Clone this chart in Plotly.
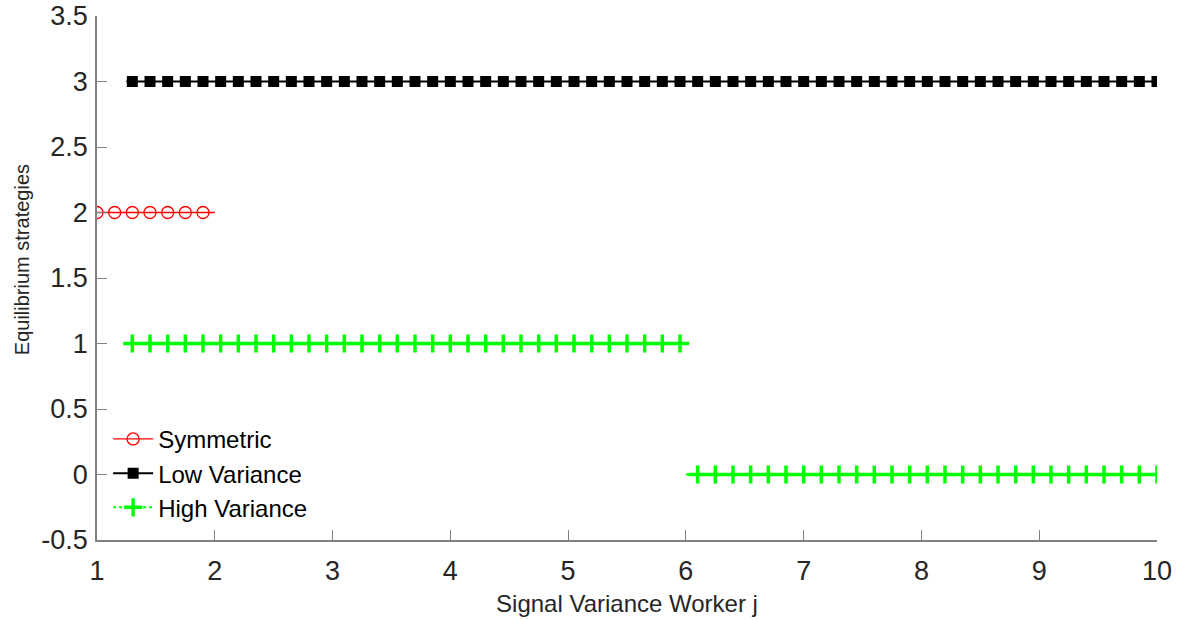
import plotly.graph_objects as go

# ---- data ----
sym_line_x = [1.0, 2.0]
sym_marker_x = [1.0, 1.15, 1.3, 1.45, 1.6, 1.75, 1.9]
sym_value = 2

low_line_x = [1.25, 10.0]
low_marker_x = [1.3, 1.45, 1.6, 1.75, 1.9, 2.05, 2.2, 2.35, 2.5, 2.65, 2.8, 2.95,
                3.1, 3.25, 3.4, 3.55, 3.7, 3.85, 4.0, 4.15, 4.3, 4.45, 4.6, 4.75,
                4.9, 5.05, 5.2, 5.35, 5.5, 5.65, 5.8, 5.95, 6.1, 6.25, 6.4, 6.55,
                6.7, 6.85, 7.0, 7.15, 7.3, 7.45, 7.6, 7.75, 7.9, 8.05, 8.2, 8.35,
                8.5, 8.65, 8.8, 8.95, 9.1, 9.25, 9.4, 9.55, 9.7, 9.85, 10.0]
low_value = 3

high1_line_x = [1.25, 6.0]
high1_marker_x = [1.3, 1.45, 1.6, 1.75, 1.9, 2.05, 2.2, 2.35, 2.5, 2.65, 2.8, 2.95,
                  3.1, 3.25, 3.4, 3.55, 3.7, 3.85, 4.0, 4.15, 4.3, 4.45, 4.6, 4.75,
                  4.9, 5.05, 5.2, 5.35, 5.5, 5.65, 5.8, 5.95]
high1_value = 1
high2_line_x = [6.0, 10.0]
high2_marker_x = [6.1, 6.25, 6.4, 6.55, 6.7, 6.85, 7.0, 7.15, 7.3, 7.45, 7.6, 7.75,
                  7.9, 8.05, 8.2, 8.35, 8.5, 8.65, 8.8, 8.95, 9.1, 9.25, 9.4, 9.55,
                  9.7, 9.85, 10.0]
high2_value = 0

x_ticks = [1, 2, 3, 4, 5, 6, 7, 8, 9, 10]
y_ticks = [-0.5, 0, 0.5, 1, 1.5, 2, 2.5, 3, 3.5]
y_tick_labels = ["-0.5", "0", "0.5", "1", "1.5", "2", "2.5", "3", "3.5"]

x_title = "Signal Variance Worker j"
y_title = "Equilibrium strategies"

RED = "#FF0000"
BLACK = "#000000"
GREEN = "#00FF00"
FONT = "Liberation Sans, Arial, Helvetica, sans-serif"

sym_marker = dict(symbol="circle-open", size=12, color=RED, line=dict(width=1.3, color=RED))
low_marker = dict(symbol="square", size=11, color=BLACK)
high_marker = dict(symbol="cross-thin", size=13, color=GREEN, line=dict(width=3.5, color=GREEN))

fig = go.Figure()

# Symmetric
fig.add_trace(go.Scatter(x=sym_line_x, y=[sym_value] * len(sym_line_x), mode="lines",
                         line=dict(color=RED, width=1.3), showlegend=False, hoverinfo="skip"))
fig.add_trace(go.Scatter(x=sym_marker_x, y=[sym_value] * len(sym_marker_x), mode="markers",
                         marker=sym_marker, showlegend=False))
# Low Variance
fig.add_trace(go.Scatter(x=low_line_x, y=[low_value] * len(low_line_x), mode="lines",
                         line=dict(color=BLACK, width=2), showlegend=False, hoverinfo="skip"))
fig.add_trace(go.Scatter(x=low_marker_x, y=[low_value] * len(low_marker_x), mode="markers",
                         marker=low_marker, showlegend=False))
# High Variance
fig.add_trace(go.Scatter(x=high1_line_x + [None] + high2_line_x,
                         y=[high1_value] * len(high1_line_x) + [None] + [high2_value] * len(high2_line_x),
                         mode="lines", line=dict(color=GREEN, width=2, dash="dot"),
                         showlegend=False, hoverinfo="skip", connectgaps=False))
fig.add_trace(go.Scatter(x=high1_marker_x + high2_marker_x,
                         y=[high1_value] * len(high1_marker_x) + [high2_value] * len(high2_marker_x),
                         mode="markers", marker=high_marker, showlegend=False))

# legend entries
fig.add_trace(go.Scatter(x=[None], y=[None], mode="lines+markers", name="Symmetric",
                         line=dict(color=RED, width=1.3), marker=sym_marker))
fig.add_trace(go.Scatter(x=[None], y=[None], mode="lines+markers", name="Low Variance",
                         line=dict(color=BLACK, width=2), marker=low_marker))
fig.add_trace(go.Scatter(x=[None], y=[None], mode="lines+markers", name="High Variance",
                         line=dict(color=GREEN, width=2, dash="dot"), marker=high_marker))

axis_common = dict(showgrid=False, zeroline=False, showline=True, linecolor="#808080",
                   linewidth=1.5, ticks="inside", ticklen=10, tickcolor="#808080",
                   tickwidth=1, automargin=False,
                   tickfont=dict(size=27, color="#262626", family=FONT))

fig.update_layout(
    width=1190, height=620,
    margin=dict(l=97, r=33, t=16, b=80),
    paper_bgcolor="white", plot_bgcolor="white",
    font=dict(family=FONT, color="#262626"),
    xaxis=dict(range=[1, 10], tickvals=x_ticks, ticktext=[str(t) for t in x_ticks],
               title=dict(text=x_title, font=dict(size=24), standoff=10),
               ticklabelstandoff=6,
               **axis_common),
    yaxis=dict(range=[-0.5, 3.5], tickvals=y_ticks, ticktext=y_tick_labels,
               ticklabelstandoff=2,
               **axis_common),
    annotations=[dict(text=y_title, textangle=-90, xref="paper", yref="paper",
                      x=0, y=0.534, xanchor="center", yanchor="middle", xshift=-75,
                      showarrow=False, font=dict(size=20, color="#262626", family=FONT))],
    legend=dict(x=0.0105, y=0.235, xanchor="left", yanchor="top",
                bgcolor="rgba(255,255,255,0)", font=dict(size=24, color="#000000"),
                tracegroupgap=0, itemwidth=40),
)

fig.write_html("out.html", config={"displayModeBar": False},
               post_script="document.body.style.margin='0';")
